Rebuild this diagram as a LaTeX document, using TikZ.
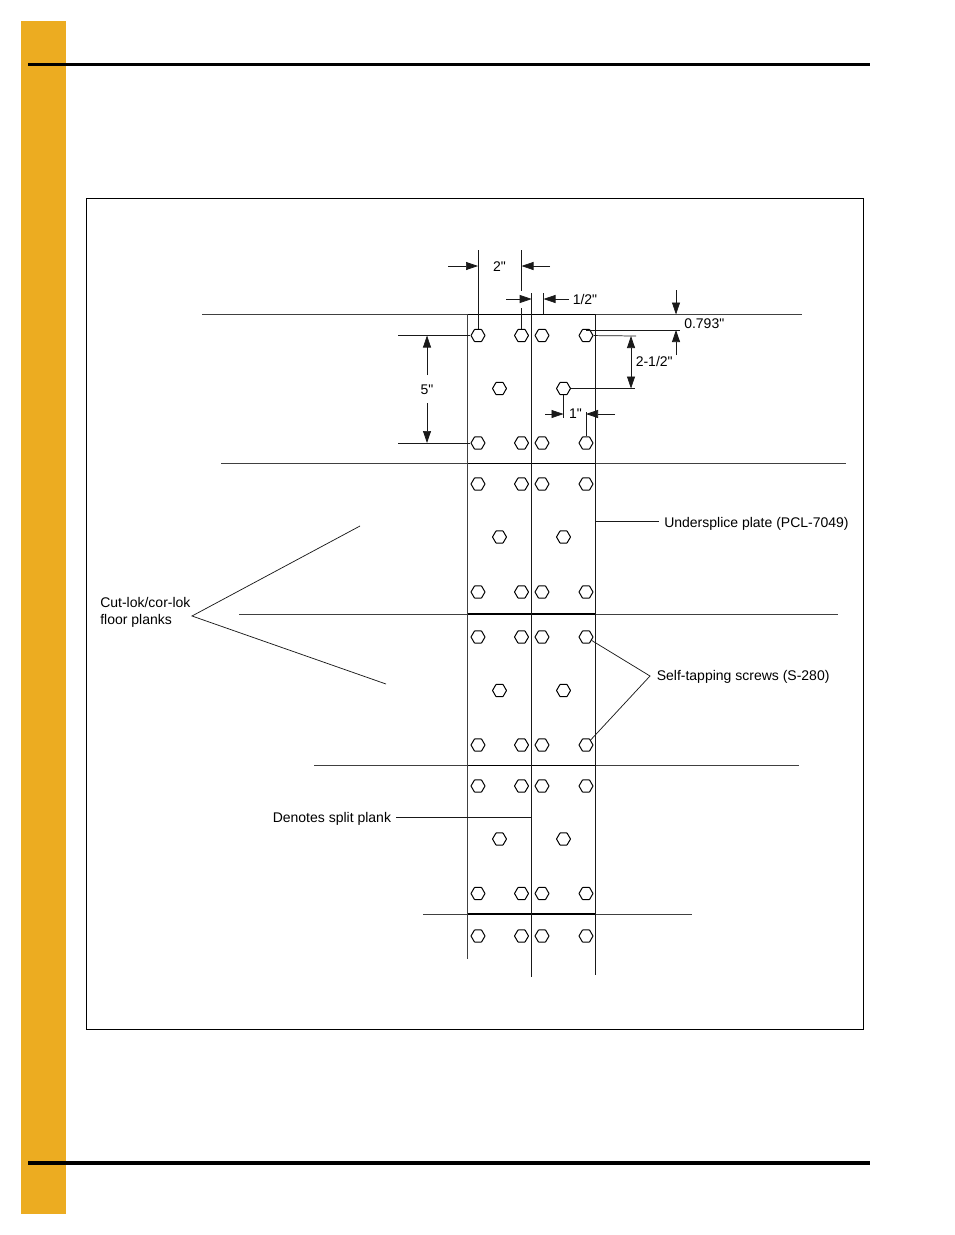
\documentclass[tikz,border=0pt]{standalone}
\usepackage{fontspec}
\newfontfamily\labfont{Liberation Sans}
\usetikzlibrary{arrows.meta,shapes.geometric}
\definecolor{barorange}{HTML}{ECAC21}
\tikzset{
  thin line/.style={line width=0.55pt,draw=black!90},
  plank/.style={line width=0.55pt,draw=black!75},
  seam/.style={line width=1.1pt,draw=black},
  rail/.style={line width=2.4pt,draw=black},
  dim/.style={line width=0.55pt,draw=black!90,-{Triangle[length=9pt,width=6pt]}},
  screw/.style={regular polygon,regular polygon sides=6,draw=black,line width=0.75pt,fill=white,minimum size=10.5pt,inner sep=0pt,rounded corners=0.35pt},
  lab/.style={font=\labfont\fontsize{10.5pt}{12.75pt}\selectfont,inner sep=0pt,text=black},
}
\begin{document}
\begin{tikzpicture}[x=0.75pt,y=-0.75pt]
\useasboundingbox (0,0) rectangle (954,1235);
\fill[barorange] (21,21) rectangle (66,1214);
\coordinate (railAL) at (28,64.5); \coordinate (railAR) at (870,64.5);
\coordinate (railBL) at (28,1163); \coordinate (railBR) at (870,1163);
\draw[rail] (railAL) -- (railAR);
\draw[rail] (railBL) -- (railBR);
\node[draw=black,line width=0.55pt,minimum width=582.75pt,minimum height=623.25pt,inner sep=0pt,anchor=north west] (frame) at (85.7,197.9) {};

% horizontal plank lines
\foreach \n/\y/\l/\r in {a/314.5/202/802,b/463.5/221/846,c/614/239/838,d/765.5/314/799,e/914/423/692}{
  \coordinate (h\n L) at (\l,\y); \coordinate (h\n R) at (\r,\y);
  \coordinate (h\n A) at (467.5,\y); \coordinate (h\n B) at (595.5,\y);
  \draw[plank] (h\n L) -- (h\n R);
  \draw[seam] (h\n A) -- (h\n B);
}
% vertical lines
\coordinate (v1t) at (467.7,314); \coordinate (v1b) at (467.7,959);
\coordinate (v2t) at (531.7,293); \coordinate (v2b) at (531.7,977);
\coordinate (v3t) at (595.3,314); \coordinate (v3b) at (595.3,975);
\draw[plank] (v1t) -- (v1b);
\draw[thin line] (v2t) -- (v2b);
\draw[thin line] (v3t) -- (v3b);

% screws
\foreach \y/\r in {335.5/1,443/2,484/3,592/4,637/5,745/6,786/7,893.5/8,936/9}{
  \foreach \x/\c in {478/A,521.5/B,542/C,586/D}{
    \node[screw] (s\c\r) at (\x,\y) {};
  }
}
\foreach \y/\r in {388.5/1,537/2,690.5/3,839/4}{
  \node[screw] (m\r L) at (499.5,\y) {};
  \node[screw] (m\r R) at (563.5,\y) {};
}

% 2" dimension
\coordinate (e1) at (478,250); \coordinate (e2) at (521.5,250); \coordinate (e3) at (521.5,291);
\coordinate (a1) at (448,266); \coordinate (a1h) at (478,266);
\coordinate (a2) at (550,266); \coordinate (a2h) at (521.5,266);
\draw[thin line] (e1) -- (sA1);
\draw[thin line] (e2) -- (e3);
\draw[dim] (a1) -- (a1h);
\draw[dim] (a2) -- (a2h);
\node[lab] (t2) at (499.5,267) {2"};
% 1/2" dimension
\coordinate (e4) at (521.5,308); \coordinate (e5) at (543.5,293); \coordinate (e6) at (543.5,314);
\coordinate (a3) at (506,299); \coordinate (a3h) at (531.7,299);
\coordinate (a4) at (569,299); \coordinate (a4h) at (543.5,299);
\draw[thin line] (e4) -- (sB1);
\draw[thin line] (e5) -- (e6);
\draw[dim] (a3) -- (a3h);
\draw[dim] (a4) -- (a4h);
\node[lab,anchor=west] (t12) at (572.5,299.5) {1/2"};
% 0.793"
\coordinate (e7) at (680,330); \coordinate (e7a) at (586,330);
\coordinate (a5) at (676,290); \coordinate (a5h) at (676,314.5);
\coordinate (a6) at (676,355); \coordinate (a6h) at (676,330);
\draw[thin line] (e7a) -- (e7);
\draw[dim] (a5) -- (a5h);
\draw[dim] (a6) -- (a6h);
\node[lab,anchor=west] (t793) at (684,324) {0.793"};
% 2-1/2"
\coordinate (e8) at (636,336); \coordinate (e9) at (635,388.5);
\coordinate (a7) at (631,362); \coordinate (a7t) at (631,336); \coordinate (a7b) at (631,388.5);
\draw[thin line] (sD1) -- (e8);
\draw[thin line] (m1R) -- (e9);
\draw[dim] (a7) -- (a7t);
\draw[dim] (a7) -- (a7b);
\node[lab,anchor=west] (t212) at (635.5,361.5) {2-1/2"};
% 5"
\coordinate (e10) at (398,335.5); \coordinate (e11) at (398,443);
\coordinate (a8) at (427,375); \coordinate (a8h) at (427,335.5);
\coordinate (a9) at (427,403); \coordinate (a9h) at (427,443);
\draw[thin line] (e10) -- (sA1);
\draw[thin line] (e11) -- (sA2);
\draw[dim] (a8) -- (a8h);
\draw[dim] (a9) -- (a9h);
\node[lab] (t5) at (427,389.5) {5"};
% 1"
\coordinate (e12) at (563.5,418); \coordinate (e13) at (586,412);
\coordinate (a10) at (545,414); \coordinate (a10h) at (563.5,414);
\coordinate (a11) at (615,414); \coordinate (a11h) at (586,414);
\draw[thin line] (m1R) -- (e12);
\draw[thin line] (e13) -- (sD2);
\draw[dim] (a10) -- (a10h);
\draw[dim] (a11) -- (a11h);
\node[lab] (t1) at (575.5,414) {1"};

% labels and leaders
\node[lab,anchor=west] (under) at (664,523.6) {Undersplice plate (PCL-7049)};
\coordinate (u1) at (596,521.5); \coordinate (u2) at (659,521.5);
\draw[thin line] (u1) -- (u2);
\node[lab,anchor=west] (self) at (656.5,677) {Self-tapping screws (S-280)};
\coordinate (sv) at (650,676);
\draw[thin line] (sD5) -- (sv) -- (sD6);
\node[lab,anchor=west,align=left] (cut) at (100,612.8) {Cut-lok/cor-lok\\floor planks};
\coordinate (c0) at (192,616); \coordinate (c1) at (360,526); \coordinate (c2) at (386,684);
\draw[thin line] (c1) -- (c0) -- (c2);
\node[lab,anchor=west] (den) at (272.5,818.6) {Denotes split plank};
\coordinate (d0) at (396,817); \coordinate (d1) at (531.7,817);
\draw[thin line] (d0) -- (d1);
\end{tikzpicture}
\end{document}
